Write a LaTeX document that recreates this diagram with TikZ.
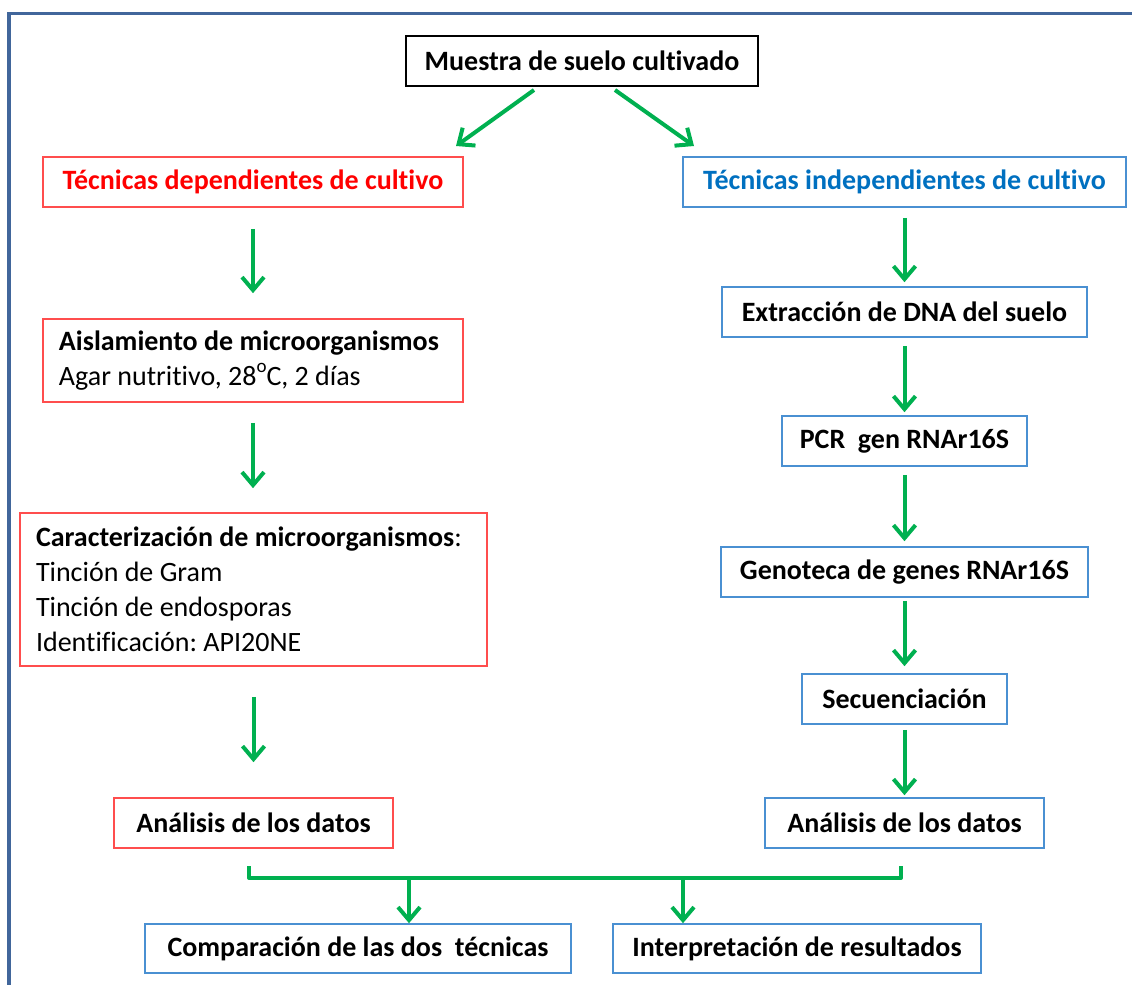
\documentclass[tikz,border=0pt]{standalone}
\usepackage{fontspec}
\setmainfont{Carlito}[Ligatures=NoCommon]
\usetikzlibrary{arrows.meta,calc}
\frenchspacing
\definecolor{gr}{HTML}{00B050}
\definecolor{redb}{HTML}{FF4D4D}
\definecolor{redt}{HTML}{FF0000}
\definecolor{blueb}{HTML}{4A90D2}
\definecolor{bluet}{HTML}{0070C0}
\definecolor{framec}{HTML}{41669B}
\begin{document}
\begin{tikzpicture}[x=0.5pt,y=-0.5pt,
  box/.style={draw,line width=0.8pt,minimum height=25pt,inner sep=0pt,
    font=\fontsize{14}{17.5}\selectfont\bfseries},
  kbox/.style={box,draw=black},
  rbox/.style={box,draw=redb},
  bbox/.style={box,draw=blueb},
  lbox/.style={rbox,align=flush left,inner xsep=8pt,font=\fontsize{14}{17.5}\selectfont},
  arr/.style={draw=gr,line width=2pt,-{Straight Barb[length=6.5pt,width=11pt]}},
  link/.style={draw=gr,line width=2pt,line join=round}
]
\useasboundingbox (0,0) rectangle (1132,985);
% frame
\draw[framec,line width=1.6pt] (9,985) -- (9,13.7) -- (1132,13.7);

% nodes
\node[kbox,minimum width=176pt] (muestra) at (582,61) {Muestra de suelo cultivado};
\node[rbox,minimum width=210pt,text=redt] (dep) at (253,182) {Técnicas dependientes de cultivo};
\node[bbox,minimum width=221.5pt,text=bluet] (indep) at (904.5,182) {Técnicas independientes de cultivo};

\node[lbox,text width=194pt,minimum height=41.5pt] (aisl) at (253,360.5)
  {\textbf{Aislamiento de microorganismos}\\Agar nutritivo, 28\raisebox{0.95ex}{\fontsize{9.5}{9.5}\selectfont o}C, 2 días};
\node[lbox,text width=217.5pt,minimum height=76.5pt] (carac) at (253.5,589.5)
  {\textbf{Caracterización de microorganismos}:\\Tinción de Gram\\Tinción de endosporas\\Identificación: API20NE};
\node[rbox,minimum width=139.5pt] (anL) at (253.5,823) {Análisis de los datos};

\node[bbox,minimum width=182.5pt] (extr) at (904.5,312) {Extracción de DNA del suelo};
\node[bbox,minimum width=122.5pt] (pcr) at (904.5,441) {PCR~ gen RNAr16S};
\node[bbox,minimum width=183.5pt] (geno) at (904.5,572) {Genoteca de genes RNAr16S};
\node[bbox,minimum width=102.5pt] (sec) at (904.5,699) {Secuenciación};
\node[bbox,minimum width=139.5pt] (anR) at (904.5,823) {Análisis de los datos};

\node[bbox,minimum width=213pt,minimum height=24.5pt] (comp) at (358,948.5) {Comparación de las dos~ técnicas};
\node[bbox,minimum width=184pt,minimum height=24.5pt] (interp) at (797,948.5) {Interpretación de resultados};

% diagonal arrows
\coordinate (m1) at (534,90);
\coordinate (d1) at (456,146);
\coordinate (m2) at (615,90);
\coordinate (d2) at (694,146);
\draw[arr] (m1) -- (d1);
\draw[arr] (m2) -- (d2);

% left column
\draw[arr,shorten <=10.5pt,shorten >=12.5pt] (dep.south) -- (dep.south |- aisl.north);
\draw[arr,shorten <=10pt,shorten >=12pt] (aisl.south) -- (aisl.south |- carac.north);
\draw[arr,shorten <=15pt,shorten >=17.5pt] (carac.south) -- (carac.south |- anL.north);

% right column
\draw[arr,shorten <=5pt,shorten >=2pt] (indep.south) -- (extr.north);
\draw[arr,shorten <=4pt,shorten >=1.5pt] (extr.south) -- (pcr.north);
\draw[arr,shorten <=4pt,shorten >=2.5pt] (pcr.south) -- (geno.north);
\draw[arr,shorten <=1.5pt,shorten >=3.5pt] (geno.south) -- (sec.north);
\draw[arr,shorten <=2.5pt,shorten >=1pt] (sec.south) -- (anR.north);

% bracket
\coordinate (bL) at (249,866);
\coordinate (bR) at (901,866);
\coordinate (jL) at (249,878);
\coordinate (jR) at (901,878);
\coordinate (j1) at (409,878);
\coordinate (j2) at (683,878);
\draw[link] (bL) -- (jL) -- (jR) -- (bR);
\draw[arr] (j1) -- (j1 |- comp.north);
\draw[arr] (j2) -- (j2 |- interp.north);
\end{tikzpicture}
\end{document}
